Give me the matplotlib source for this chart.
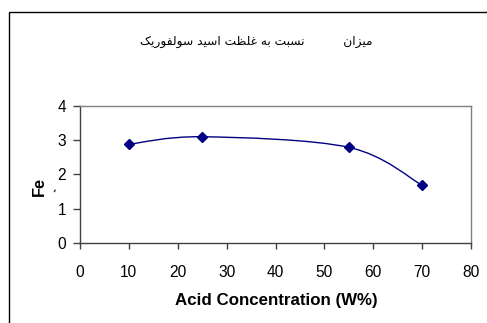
import matplotlib
matplotlib.use("Agg")
import matplotlib.pyplot as plt
from matplotlib.path import Path
from matplotlib.patches import PathPatch, Rectangle
import numpy as np

# ---- data ----
acid_conc = [10, 25, 55, 70]
fe_values = [2.88, 3.10, 2.79, 1.68]
x_ticks = [0, 10, 20, 30, 40, 50, 60, 70, 80]
y_ticks = [0, 1, 2, 3, 4]
title_text = "میزان          نسبت به غلظت اسید سولفوریک"
x_label = "Acid Concentration (W%)"
y_label = "Fe"

# ---- minimal Persian shaping (presentation forms, visual order) ----
FORMS = {
    'ا': ('\uFE8D', '\uFE8E', None, None),
    'ب': ('\uFE8F', '\uFE90', '\uFE91', '\uFE92'),
    'ت': ('\uFE95', '\uFE96', '\uFE97', '\uFE98'),
    'د': ('\uFEA9', '\uFEAA', None, None),
    'ر': ('\uFEAD', '\uFEAE', None, None),
    'ز': ('\uFEAF', '\uFEB0', None, None),
    'س': ('\uFEB1', '\uFEB2', '\uFEB3', '\uFEB4'),
    'ظ': ('\uFEC5', '\uFEC6', '\uFEC7', '\uFEC8'),
    'غ': ('\uFECD', '\uFECE', '\uFECF', '\uFED0'),
    'ف': ('\uFED1', '\uFED2', '\uFED3', '\uFED4'),
    'ل': ('\uFEDD', '\uFEDE', '\uFEDF', '\uFEE0'),
    'م': ('\uFEE1', '\uFEE2', '\uFEE3', '\uFEE4'),
    'ن': ('\uFEE5', '\uFEE6', '\uFEE7', '\uFEE8'),
    'ه': ('\uFEE9', '\uFEEA', '\uFEEB', '\uFEEC'),
    'و': ('\uFEED', '\uFEEE', None, None),
    'ی': ('\uFBFC', '\uFBFD', '\uFBFE', '\uFBFF'),
    'ک': ('\uFB8E', '\uFB8F', '\uFB90', '\uFB91'),
}


def shape(text):
    out = []
    n = len(text)
    for i, c in enumerate(text):
        if c not in FORMS:
            out.append(c)
            continue
        iso, fin, ini, med = FORMS[c]
        prev = text[i - 1] if i > 0 else None
        nxt = text[i + 1] if i < n - 1 else None
        jp = prev in FORMS and FORMS[prev][2] is not None
        jn = ini is not None and nxt in FORMS
        if jp and jn:
            out.append(med)
        elif jp:
            out.append(fin)
        elif jn:
            out.append(ini)
        else:
            out.append(iso)
    return ''.join(out)[::-1]


W, H = 487, 323
fig = plt.figure(figsize=(W / 100, H / 100), dpi=100)
fig.patch.set_facecolor('white')

# outer chart-area frame (extends beyond the crop on right/bottom)
fig.add_artist(Rectangle((8.5 / W, -0.2), 1.5, 1.2 - 11.5 / H,
                         transform=fig.transFigure, fill=False,
                         edgecolor='black', linewidth=1.0))

ax = fig.add_axes([80 / W, 1 - 242.7 / H, (471 - 80) / W, (242.7 - 106) / H])
ax.set_xlim(0, 80)
ax.set_ylim(0, 4)
ax.set_xticks(x_ticks)
ax.set_yticks(y_ticks)
ax.set_xticklabels([str(v) for v in x_ticks])
ax.set_yticklabels([str(v) for v in y_ticks])
for lab in ax.get_xticklabels() + ax.get_yticklabels():
    lab.set_fontfamily('Liberation Sans')
    lab.set_fontsize(11.2)
ax.tick_params(axis='x', direction='out', length=4, width=1, pad=12, color='#404040')
ax.tick_params(axis='y', direction='out', length=5, width=1, pad=5, color='#404040')

for s in ['top', 'right']:
    ax.spines[s].set_color('#808080')
    ax.spines[s].set_linewidth(1)
for s in ['left', 'bottom']:
    ax.spines[s].set_color('#404040')
    ax.spines[s].set_linewidth(1)

# smoothed line (Bezier through data points, as in spreadsheet "smoothed line")
P = np.column_stack([acid_conc, fe_values]).astype(float)
Pext = np.vstack([P[0], P, P[-1]])
verts = [tuple(P[0])]
codes = [Path.MOVETO]
for i in range(len(P) - 1):
    p0, p1, p2, p3 = Pext[i], Pext[i + 1], Pext[i + 2], Pext[i + 3]
    c1 = p1 + (p2 - p0) / 6.0
    c2 = p2 - (p3 - p1) / 6.0
    verts += [tuple(c1), tuple(c2), tuple(p2)]
    codes += [Path.CURVE4] * 3
ax.add_patch(PathPatch(Path(verts, codes), facecolor='none',
                       edgecolor='#000080', linewidth=1.0))
ax.plot(acid_conc, fe_values, linestyle='none', marker='D',
        markersize=5.5, color='#000080')

# axis labels
fig.text(276 / W, 1 - 300 / H, x_label, ha='center', va='center',
         fontfamily='Liberation Sans', fontweight='bold', fontsize=12.2)
fig.text(39 / W, 1 - 186.5 / H, y_label, ha='center', va='center', rotation=90,
         fontfamily='Liberation Sans', fontweight='bold', fontsize=11.8)
fig.text(53 / W, 1 - 193 / H, "'", ha='center', va='center', rotation=-20,
         fontfamily='Liberation Sans', fontweight='bold', fontsize=7)

# title
fig.text(256 / W, 1 - 42 / H, shape(title_text), ha='center', va='center',
         fontfamily='DejaVu Sans', fontsize=8.8)

fig.savefig('out.png', dpi=100)
